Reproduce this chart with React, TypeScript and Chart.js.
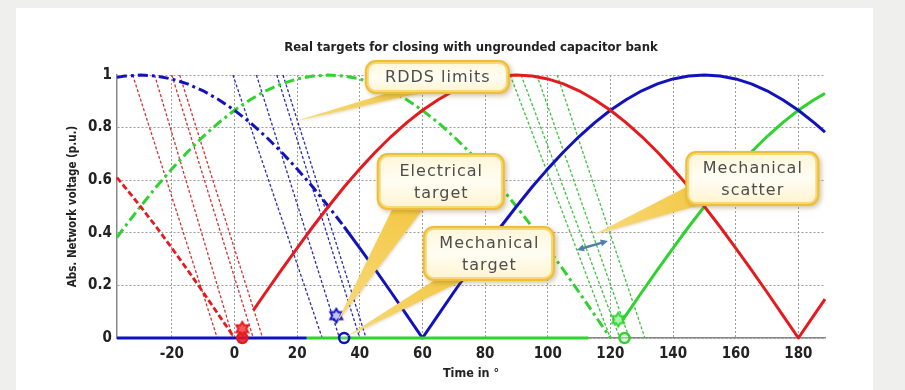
import React, { useEffect, useRef } from "react";
import { Chart, registerables } from "chart.js";

Chart.register(...registerables);

// ---------- text ----------
const TITLE = "Real targets for closing with ungrounded capacitor bank";
const X_TITLE = "Time in °";
const Y_TITLE = "Abs. Network voltage (p.u.)";

// ---------- ticks ----------
const X_TICKS = [-20, 0, 20, 40, 60, 80, 100, 120, 140, 160, 180];
const Y_TICKS = [0, 0.2, 0.4, 0.6, 0.8, 1];
const X_MIN = -37.5;
const X_MAX = 188.5;

// ---------- phase curves ----------
const RED_DASH_X = [-37.5, -35, -30, -25, -20, -15, -10, -5, 0];
const RED_DASH_Y = [0.61, 0.574, 0.5, 0.423, 0.342, 0.259, 0.174, 0.087, 0.0];

const RED_SOLID_X = [6, 10, 15, 20, 25, 30, 35, 40, 45, 50, 55, 60, 65, 70, 75, 80, 85, 90, 95, 100, 105, 110, 115, 120, 125, 130, 135, 140, 145, 150, 155, 160, 165, 170, 175, 180, 185, 188.5];
const RED_SOLID_Y = [0.105, 0.174, 0.259, 0.342, 0.423, 0.5, 0.574, 0.643, 0.707, 0.766, 0.819, 0.866, 0.906, 0.94, 0.966, 0.985, 0.996, 1.0, 0.996, 0.985, 0.966, 0.94, 0.906, 0.866, 0.819, 0.766, 0.707, 0.643, 0.574, 0.5, 0.423, 0.342, 0.259, 0.174, 0.087, 0.0, 0.087, 0.148];

const BLUE_DASH_X = [-37.5, -35, -30, -25, -20, -15, -10, -5, 0, 5, 10, 15, 20, 25, 30, 35];
const BLUE_DASH_Y = [0.991, 0.996, 1.0, 0.996, 0.985, 0.966, 0.94, 0.906, 0.866, 0.819, 0.766, 0.707, 0.643, 0.574, 0.5, 0.423];

const BLUE_SOLID_X = [35, 40, 45, 50, 55, 60, 65, 70, 75, 80, 85, 90, 95, 100, 105, 110, 115, 120, 125, 130, 135, 140, 145, 150, 155, 160, 165, 170, 175, 180, 185, 188.5];
const BLUE_SOLID_Y = [0.423, 0.342, 0.259, 0.174, 0.087, 0.0, 0.087, 0.174, 0.259, 0.342, 0.423, 0.5, 0.574, 0.643, 0.707, 0.766, 0.819, 0.866, 0.906, 0.94, 0.966, 0.985, 0.996, 1.0, 0.996, 0.985, 0.966, 0.94, 0.906, 0.866, 0.819, 0.783];

const GREEN_DASH_X = [-37.5, -35, -30, -25, -20, -15, -10, -5, 0, 5, 10, 15, 20, 25, 30, 35, 40, 45, 50, 55, 60, 65, 70, 75, 80, 85, 90, 95, 100, 105, 110, 115, 120];
const GREEN_DASH_Y = [0.383, 0.423, 0.5, 0.574, 0.643, 0.707, 0.766, 0.819, 0.866, 0.906, 0.94, 0.966, 0.985, 0.996, 1.0, 0.996, 0.985, 0.966, 0.94, 0.906, 0.866, 0.819, 0.766, 0.707, 0.643, 0.574, 0.5, 0.423, 0.342, 0.259, 0.174, 0.087, 0.0];

const GREEN_SOLID_X = [124, 130, 135, 140, 145, 150, 155, 160, 165, 170, 175, 180, 185, 188.5];
const GREEN_SOLID_Y = [0.07, 0.174, 0.259, 0.342, 0.423, 0.5, 0.574, 0.643, 0.707, 0.766, 0.819, 0.866, 0.906, 0.93];

// zero-voltage segments
const BASE_BLUE_X = [-37.5, 23];
const BASE_BLUE_Y = [0, 0];
const BASE_GREEN_X = [23, 113];
const BASE_GREEN_Y = [0, 0];

// RDDS limit lines: angle where each reaches 1 p.u. and where it reaches 0
const RDDS_RED_TOP = [-32.5, -25.5, -20, -17.5];
const RDDS_RED_ZERO = [-5.5, -0.5, 6, 9];
const RDDS_BLUE_TOP = [-0.5, 7, 13.5, 15.5];
const RDDS_BLUE_ZERO = [28, 33.5, 40, 42];
const RDDS_GREEN_TOP = [88, 91.5, 96.5, 103];
const RDDS_GREEN_ZERO = [120, 123, 126, 131];

// targets
const STAR_X = [2.5, 32.5, 122.5];
const STAR_Y = [0.035, 0.085, 0.07];
const CIRCLE_X = [2.5, 35, 124.5];
const CIRCLE_Y = [0, 0, 0];

// ---------- callouts (layout in data units) ----------
const CALLOUTS = [
  { lines: ["RDDS limits"], box: [41.6, 1.057, 87.9, 0.928], base: [[52.1, 0.943], [63.0, 0.943]], tip: [18.5, 0.821] },
  { lines: ["Electrical", "target"], box: [45.4, 0.703, 86.3, 0.487], base: [[51.2, 0.51], [61.4, 0.51]], tip: [32.9, 0.065] },
  { lines: ["Mechanical", "target"], box: [60.1, 0.426, 102.3, 0.217], base: [[65.5, 0.232], [75.1, 0.232]], tip: [35.5, 0.004] },
  { lines: ["Mechanical", "scatter"], box: [143.9, 0.711, 186.7, 0.502], base: [[145.5, 0.582], [151.9, 0.517]], tip: [115.1, 0.395] },
];
const SCATTER_ARROW = [[109.3, 0.335], [119.2, 0.369]];

// ---------- styles ----------
const RED = "#e61a1e";
const BLUE = "#1212bd";
const GREEN = "#2fd22f";
const RED_THIN = "#d23434";
const BLUE_THIN = "#2c2cb0";
const GREEN_THIN = "#3cc43c";
const GRID = "#9c9c9c";
const AXIS = "#888888";
const TXT = "#222222";
const NARROW = '"Liberation Sans Narrow", "DejaVu Sans Condensed", "Liberation Sans", Arial, sans-serif';
const CALLOUT_FONT = '"DejaVu Sans", "Liberation Sans", sans-serif';

const pts = (xs: number[], ys: number[]) => xs.map((x, i) => ({ x, y: ys[i] }));

function hexagram(stroke: string, fill: string, r: number) {
  const c = document.createElement("canvas");
  const s = Math.ceil(r * 2 + 4);
  c.width = s;
  c.height = s;
  const g = c.getContext("2d")!;
  const cx = s / 2;
  const cy = s / 2;
  g.beginPath();
  for (let i = 0; i < 12; i++) {
    const a = -Math.PI / 2 + (i * Math.PI) / 6;
    const rr = i % 2 === 0 ? r : r / Math.sqrt(3);
    g.lineTo(cx + rr * Math.cos(a), cy + rr * Math.sin(a));
  }
  g.closePath();
  g.fillStyle = fill;
  g.fill();
  g.lineWidth = 1.8;
  g.strokeStyle = stroke;
  g.stroke();
  return c;
}

function roundRect(ctx: CanvasRenderingContext2D, x: number, y: number, w: number, h: number, r: number) {
  ctx.beginPath();
  ctx.moveTo(x + r, y);
  ctx.arcTo(x + w, y, x + w, y + h, r);
  ctx.arcTo(x + w, y + h, x, y + h, r);
  ctx.arcTo(x, y + h, x, y, r);
  ctx.arcTo(x, y, x + w, y, r);
  ctx.closePath();
}

const calloutPlugin = {
  id: "callouts",
  afterDatasetsDraw(chart: any) {
    const ctx: CanvasRenderingContext2D = chart.ctx;
    const xs = chart.scales.x;
    const ys = chart.scales.y;
    const px = (v: number) => xs.getPixelForValue(v);
    const py = (v: number) => ys.getPixelForValue(v);
    ctx.save();
    // wedges
    for (const c of CALLOUTS) {
      const ax = px(c.base[0][0]), ay = py(c.base[0][1]);
      const bx = px(c.base[1][0]), by = py(c.base[1][1]);
      const tx = px(c.tip[0]), ty = py(c.tip[1]);
      ctx.save();
      ctx.shadowColor = "rgba(150,110,10,0.3)";
      ctx.shadowBlur = 3;
      ctx.shadowOffsetX = 1;
      ctx.shadowOffsetY = 1;
      const grad = ctx.createLinearGradient((ax + bx) / 2, (ay + by) / 2, tx, ty);
      grad.addColorStop(0, "#f3c845");
      grad.addColorStop(1, "#f8da7a");
      ctx.fillStyle = grad;
      ctx.beginPath();
      ctx.moveTo(ax, ay);
      ctx.lineTo(bx, by);
      ctx.lineTo(tx, ty);
      ctx.closePath();
      ctx.fill();
      ctx.restore();
    }
    // boxes
    for (const c of CALLOUTS) {
      const x0 = px(c.box[0]), y0 = py(c.box[1]);
      const x1 = px(c.box[2]), y1 = py(c.box[3]);
      const w = x1 - x0, h = y1 - y0;
      ctx.save();
      ctx.shadowColor = "rgba(120,90,10,0.35)";
      ctx.shadowBlur = 5;
      ctx.shadowOffsetX = 2;
      ctx.shadowOffsetY = 2;
      roundRect(ctx, x0, y0, w, h, 11);
      ctx.fillStyle = "#eebd3a";
      ctx.fill();
      ctx.restore();
      roundRect(ctx, x0 + 2, y0 + 2, w - 4, h - 4, 9);
      ctx.fillStyle = "#f7d872";
      ctx.fill();
      roundRect(ctx, x0 + 4, y0 + 4, w - 8, h - 8, 7);
      const g = ctx.createLinearGradient(0, y0, 0, y1);
      g.addColorStop(0, "#fff6d6");
      g.addColorStop(0.5, "#fffdf4");
      g.addColorStop(1, "#fff3cc");
      ctx.fillStyle = g;
      ctx.fill();
      // text
      ctx.fillStyle = "#4d4d4d";
      ctx.font = `16px ${CALLOUT_FONT}`;
      (ctx as any).letterSpacing = "1px";
      ctx.textAlign = "center";
      ctx.textBaseline = "middle";
      const cx = (x0 + x1) / 2;
      const cy = (y0 + y1) / 2;
      const lh = 22;
      c.lines.forEach((t, i) => {
        ctx.fillText(t, cx + 0.5, cy + (i - (c.lines.length - 1) / 2) * lh + 1);
      });
      (ctx as any).letterSpacing = "0px";
    }
    // scatter double arrow
    const p1x = px(SCATTER_ARROW[0][0]), p1y = py(SCATTER_ARROW[0][1]);
    const p2x = px(SCATTER_ARROW[1][0]), p2y = py(SCATTER_ARROW[1][1]);
    const ang = Math.atan2(p2y - p1y, p2x - p1x);
    ctx.strokeStyle = "#4f7fa6";
    ctx.fillStyle = "#4f7fa6";
    ctx.lineWidth = 2.5;
    ctx.beginPath();
    ctx.moveTo(p1x + 5 * Math.cos(ang), p1y + 5 * Math.sin(ang));
    ctx.lineTo(p2x - 5 * Math.cos(ang), p2y - 5 * Math.sin(ang));
    ctx.stroke();
    const head = (hx: number, hy: number, a: number) => {
      ctx.beginPath();
      ctx.moveTo(hx, hy);
      ctx.lineTo(hx - 8 * Math.cos(a - 0.45), hy - 8 * Math.sin(a - 0.45));
      ctx.lineTo(hx - 8 * Math.cos(a + 0.45), hy - 8 * Math.sin(a + 0.45));
      ctx.closePath();
      ctx.fill();
    };
    head(p2x, p2y, ang);
    head(p1x, p1y, ang + Math.PI);
    ctx.restore();
  },
};

function lineDs(data: { x: number; y: number }[], color: string, width: number, dash: number[] = []) {
  return {
    data,
    borderColor: color,
    backgroundColor: color,
    borderWidth: width,
    borderDash: dash,
    borderJoinStyle: "round",
    pointRadius: 0,
    pointHoverRadius: 0,
    fill: false,
    tension: 0,
    clip: 8,
  };
}

export default function App() {
  const ref = useRef<HTMLCanvasElement>(null);

  useEffect(() => {
    const canvas = ref.current;
    if (!canvas) return;

    const rdds = (tops: number[], zeros: number[], color: string) =>
      tops.map((t, i) => lineDs([{ x: t, y: 1 }, { x: zeros[i], y: 0 }], color, 1.3, [3, 2]));

    const datasets: any[] = [
      {
        data: pts(STAR_X, STAR_Y),
        showLine: false,
        pointStyle: [
          hexagram(RED, "rgba(240,60,60,0.85)", 7),
          hexagram(BLUE, "rgba(120,120,255,0.45)", 7),
          hexagram(GREEN, "rgba(120,240,120,0.6)", 7),
        ],
        pointRadius: 6,
        pointHoverRadius: 6,
        clip: 10,
      },
      {
        data: pts(CIRCLE_X, CIRCLE_Y),
        showLine: false,
        pointStyle: "circle",
        pointRadius: 5,
        pointHoverRadius: 5,
        pointBorderWidth: 2.5,
        pointBorderColor: [RED, BLUE, GREEN],
        pointBackgroundColor: ["rgba(230,26,30,0.85)", "rgba(255,255,255,0.2)", "rgba(200,255,200,0.5)"],
        clip: 10,
      },
      lineDs(pts(BASE_BLUE_X, BASE_BLUE_Y), BLUE, 3.2),
      lineDs(pts(BASE_GREEN_X, BASE_GREEN_Y), GREEN, 3.2),
      lineDs(pts(RED_SOLID_X, RED_SOLID_Y), RED, 3),
      lineDs(pts(BLUE_SOLID_X, BLUE_SOLID_Y), BLUE, 3),
      lineDs(pts(GREEN_SOLID_X, GREEN_SOLID_Y), GREEN, 3),
      lineDs(pts(RED_DASH_X, RED_DASH_Y), RED, 2.8, [6, 3]),
      lineDs(pts(BLUE_DASH_X, BLUE_DASH_Y), BLUE, 3, [10, 4, 3, 4]),
      lineDs(pts(GREEN_DASH_X, GREEN_DASH_Y), GREEN, 3, [10, 4, 3, 4]),
      ...rdds(RDDS_RED_TOP, RDDS_RED_ZERO, RED_THIN),
      ...rdds(RDDS_BLUE_TOP, RDDS_BLUE_ZERO, BLUE_THIN),
      ...rdds(RDDS_GREEN_TOP, RDDS_GREEN_ZERO, GREEN_THIN),
    ];

    const tickFont = { family: NARROW, size: 15, weight: "bold" as const };

    const chart = new Chart(canvas, {
      type: "line",
      data: { datasets },
      plugins: [calloutPlugin],
      options: {
        responsive: false,
        animation: false,
        events: [],
        layout: { padding: { left: 56, right: 80, top: 0, bottom: 0 } },
        plugins: {
          legend: { display: false },
          tooltip: { enabled: false },
          title: {
            display: true,
            text: TITLE,
            fullSize: false,
            color: TXT,
            font: { family: NARROW, size: 13, weight: "bold" },
            padding: { top: 40, bottom: 19.4 },
          },
        },
        scales: {
          x: {
            type: "linear",
            min: X_MIN,
            max: X_MAX,
            afterBuildTicks: (s: any) => {
              s.ticks = X_TICKS.map((v) => ({ value: v }));
            },
            afterFit: (s: any) => {
              s.height = 52;
            },
            grid: { color: GRID, lineWidth: 1, drawTicks: false },
            border: { display: true, color: AXIS, width: 1.5, dash: [2, 2] },
            ticks: { padding: 7, color: TXT, font: tickFont, maxRotation: 0, autoSkip: false },
            title: {
              display: true,
              text: X_TITLE,
              color: TXT,
              font: { family: NARROW, size: 12.5, weight: "bold" },
              padding: { top: 0, bottom: 9 },
            },
          },
          y: {
            type: "linear",
            min: 0,
            max: 1,
            afterBuildTicks: (s: any) => {
              s.ticks = Y_TICKS.map((v) => ({ value: v }));
            },
            afterFit: (s: any) => {
              s.width = 61;
            },
            grid: { color: GRID, lineWidth: 1, drawTicks: false },
            border: { display: true, color: AXIS, width: 1.5, dash: [2, 2] },
            ticks: { padding: 5, color: TXT, font: tickFont, callback: (v: any) => String(v) },
            title: {
              display: true,
              text: Y_TITLE,
              color: TXT,
              font: { family: NARROW, size: 11.5, weight: "bold" },
              padding: { top: 10, bottom: 0 },
            },
          },
        },
      },
    } as any);

    return () => chart.destroy();
  }, []);

  return (
    <div style={{ position: "fixed", left: 0, top: 0, width: 905, height: 390, background: "#efefed", overflow: "hidden" }}>
      <div style={{ position: "absolute", left: 16, top: 8, width: 857, height: 382, background: "#ffffff" }} />
      <canvas ref={ref} width={905} height={390} style={{ position: "absolute", left: 0, top: 0, width: 905, height: 390 }} />
    </div>
  );
}
